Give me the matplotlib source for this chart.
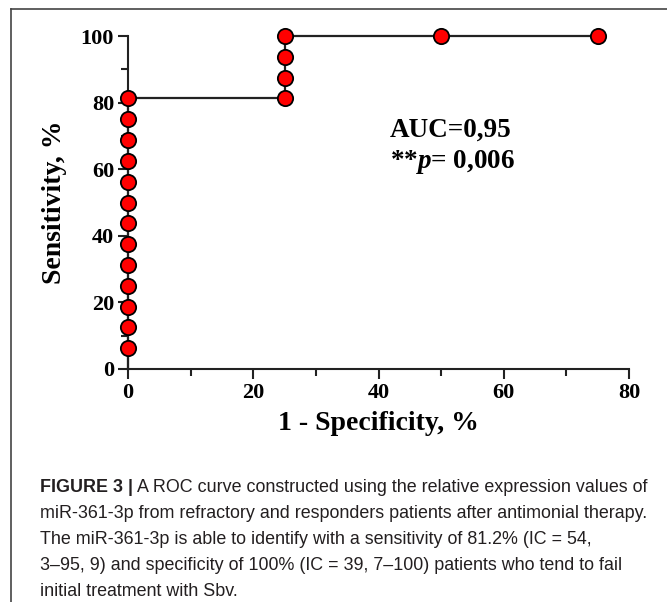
import numpy as np
import matplotlib
matplotlib.use("Agg")
import matplotlib.pyplot as plt
from matplotlib.lines import Line2D

# ROC points (1 - specificity, sensitivity), in %
fpr = [0, 0, 0, 0, 0, 0, 0, 0, 0, 0, 0, 0, 0, 25, 25, 25, 25, 50, 75]
tpr = [6.25, 12.5, 18.75, 25, 31.25, 37.5, 43.75, 50, 56.25, 62.5, 68.75, 75, 81.25,
       81.25, 87.5, 93.75, 100, 100, 100]
# step line drawn through the curve
line_x = [0, 0, 25, 25, 75]
line_y = [0, 81.25, 81.25, 100, 100]

auc_text = "AUC=0,95"
p_text = r"**$\mathit{p}$= 0,006"
caption_bold = "FIGURE 3 |"
caption_lines = [
    " A ROC curve constructed using the relative expression values of",
    "miR-361-3p from refractory and responders patients after antimonial therapy.",
    "The miR-361-3p is able to identify with a sensitivity of 81.2% (IC = 54,",
    "3\u201395, 9) and specificity of 100% (IC = 39, 7\u2013100) patients who tend to fail",
    "initial treatment with Sbv.",
]

serif = "Liberation Serif"
plt.rcParams['mathtext.fontset'] = 'custom'
plt.rcParams['mathtext.it'] = 'Liberation Serif:italic:bold'
plt.rcParams['mathtext.rm'] = 'Liberation Serif:bold'

fig = plt.figure(figsize=(6.67, 6.02), dpi=100)
ax = fig.add_axes([128 / 667, 1 - 369 / 602, (629 - 128) / 667, (369 - 36) / 602])

ax.plot(line_x, line_y, color='#222222', lw=1.6, zorder=2, clip_on=False)
ax.plot(fpr, tpr, 'o', ms=11, mfc='#ff0000', mec='black', mew=1.3, zorder=3, clip_on=False)

ax.set_xlim(0, 80)
ax.set_ylim(0, 100)
ax.set_xticks([0, 20, 40, 60, 80])
ax.set_xticks([10, 30, 50, 70], minor=True)
ax.set_yticks([0, 20, 40, 60, 80, 100])
ax.set_yticks([10, 30, 50, 70, 90], minor=True)
for s in ['top', 'right']:
    ax.spines[s].set_visible(False)
for s in ['left', 'bottom']:
    ax.spines[s].set_linewidth(1.5)
    ax.spines[s].set_color('#222222')
ax.tick_params(which='major', length=7, width=1.5, color='#222222', pad=3)
ax.tick_params(which='minor', length=5, width=1.5, color='#222222')
for lab in ax.get_xticklabels() + ax.get_yticklabels():
    lab.set_fontfamily(serif)
    lab.set_fontweight('bold')
    lab.set_fontsize(16)

ax.set_xlabel("1 - Specificity, %", fontfamily=serif, fontweight='bold', fontsize=20, labelpad=6)
ax.set_ylabel("Sensitivity, %", fontfamily=serif, fontweight='bold', fontsize=20, labelpad=10)

ax.text(41.8, 71.8, auc_text, fontfamily=serif, fontweight='bold', fontsize=19.5, va='center')
ax.text(41.8, 62.2, p_text, fontfamily=serif, fontweight='bold', fontsize=19.5, va='center')

# border of the figure panel
fig.add_artist(Line2D([11 / 667, 1.0], [1 - 9 / 602, 1 - 9 / 602], color='#444444', lw=1.2))
fig.add_artist(Line2D([11 / 667, 11 / 667], [0, 1 - 9 / 602], color='#444444', lw=1.2))

# caption
cap_font = ['Liberation Sans Narrow', 'Liberation Sans', 'DejaVu Sans']
cap_size = 12.9
x0 = 40 / 667
ys = [492, 518, 544, 570, 596]
tb = fig.text(x0, 1 - ys[0] / 602, caption_bold, family=cap_font, weight='bold',
              fontsize=cap_size, va='baseline', color='#231f20')
fig.canvas.draw()
ext = tb.get_window_extent()
fig.text(ext.x1 / 667, 1 - ys[0] / 602, caption_lines[0], family=cap_font,
         fontsize=cap_size, va='baseline', color='#231f20')
for y, line in zip(ys[1:], caption_lines[1:]):
    fig.text(x0, 1 - y / 602, line, family=cap_font, fontsize=cap_size,
             va='baseline', color='#231f20')

fig.savefig("out.png", dpi=100)
